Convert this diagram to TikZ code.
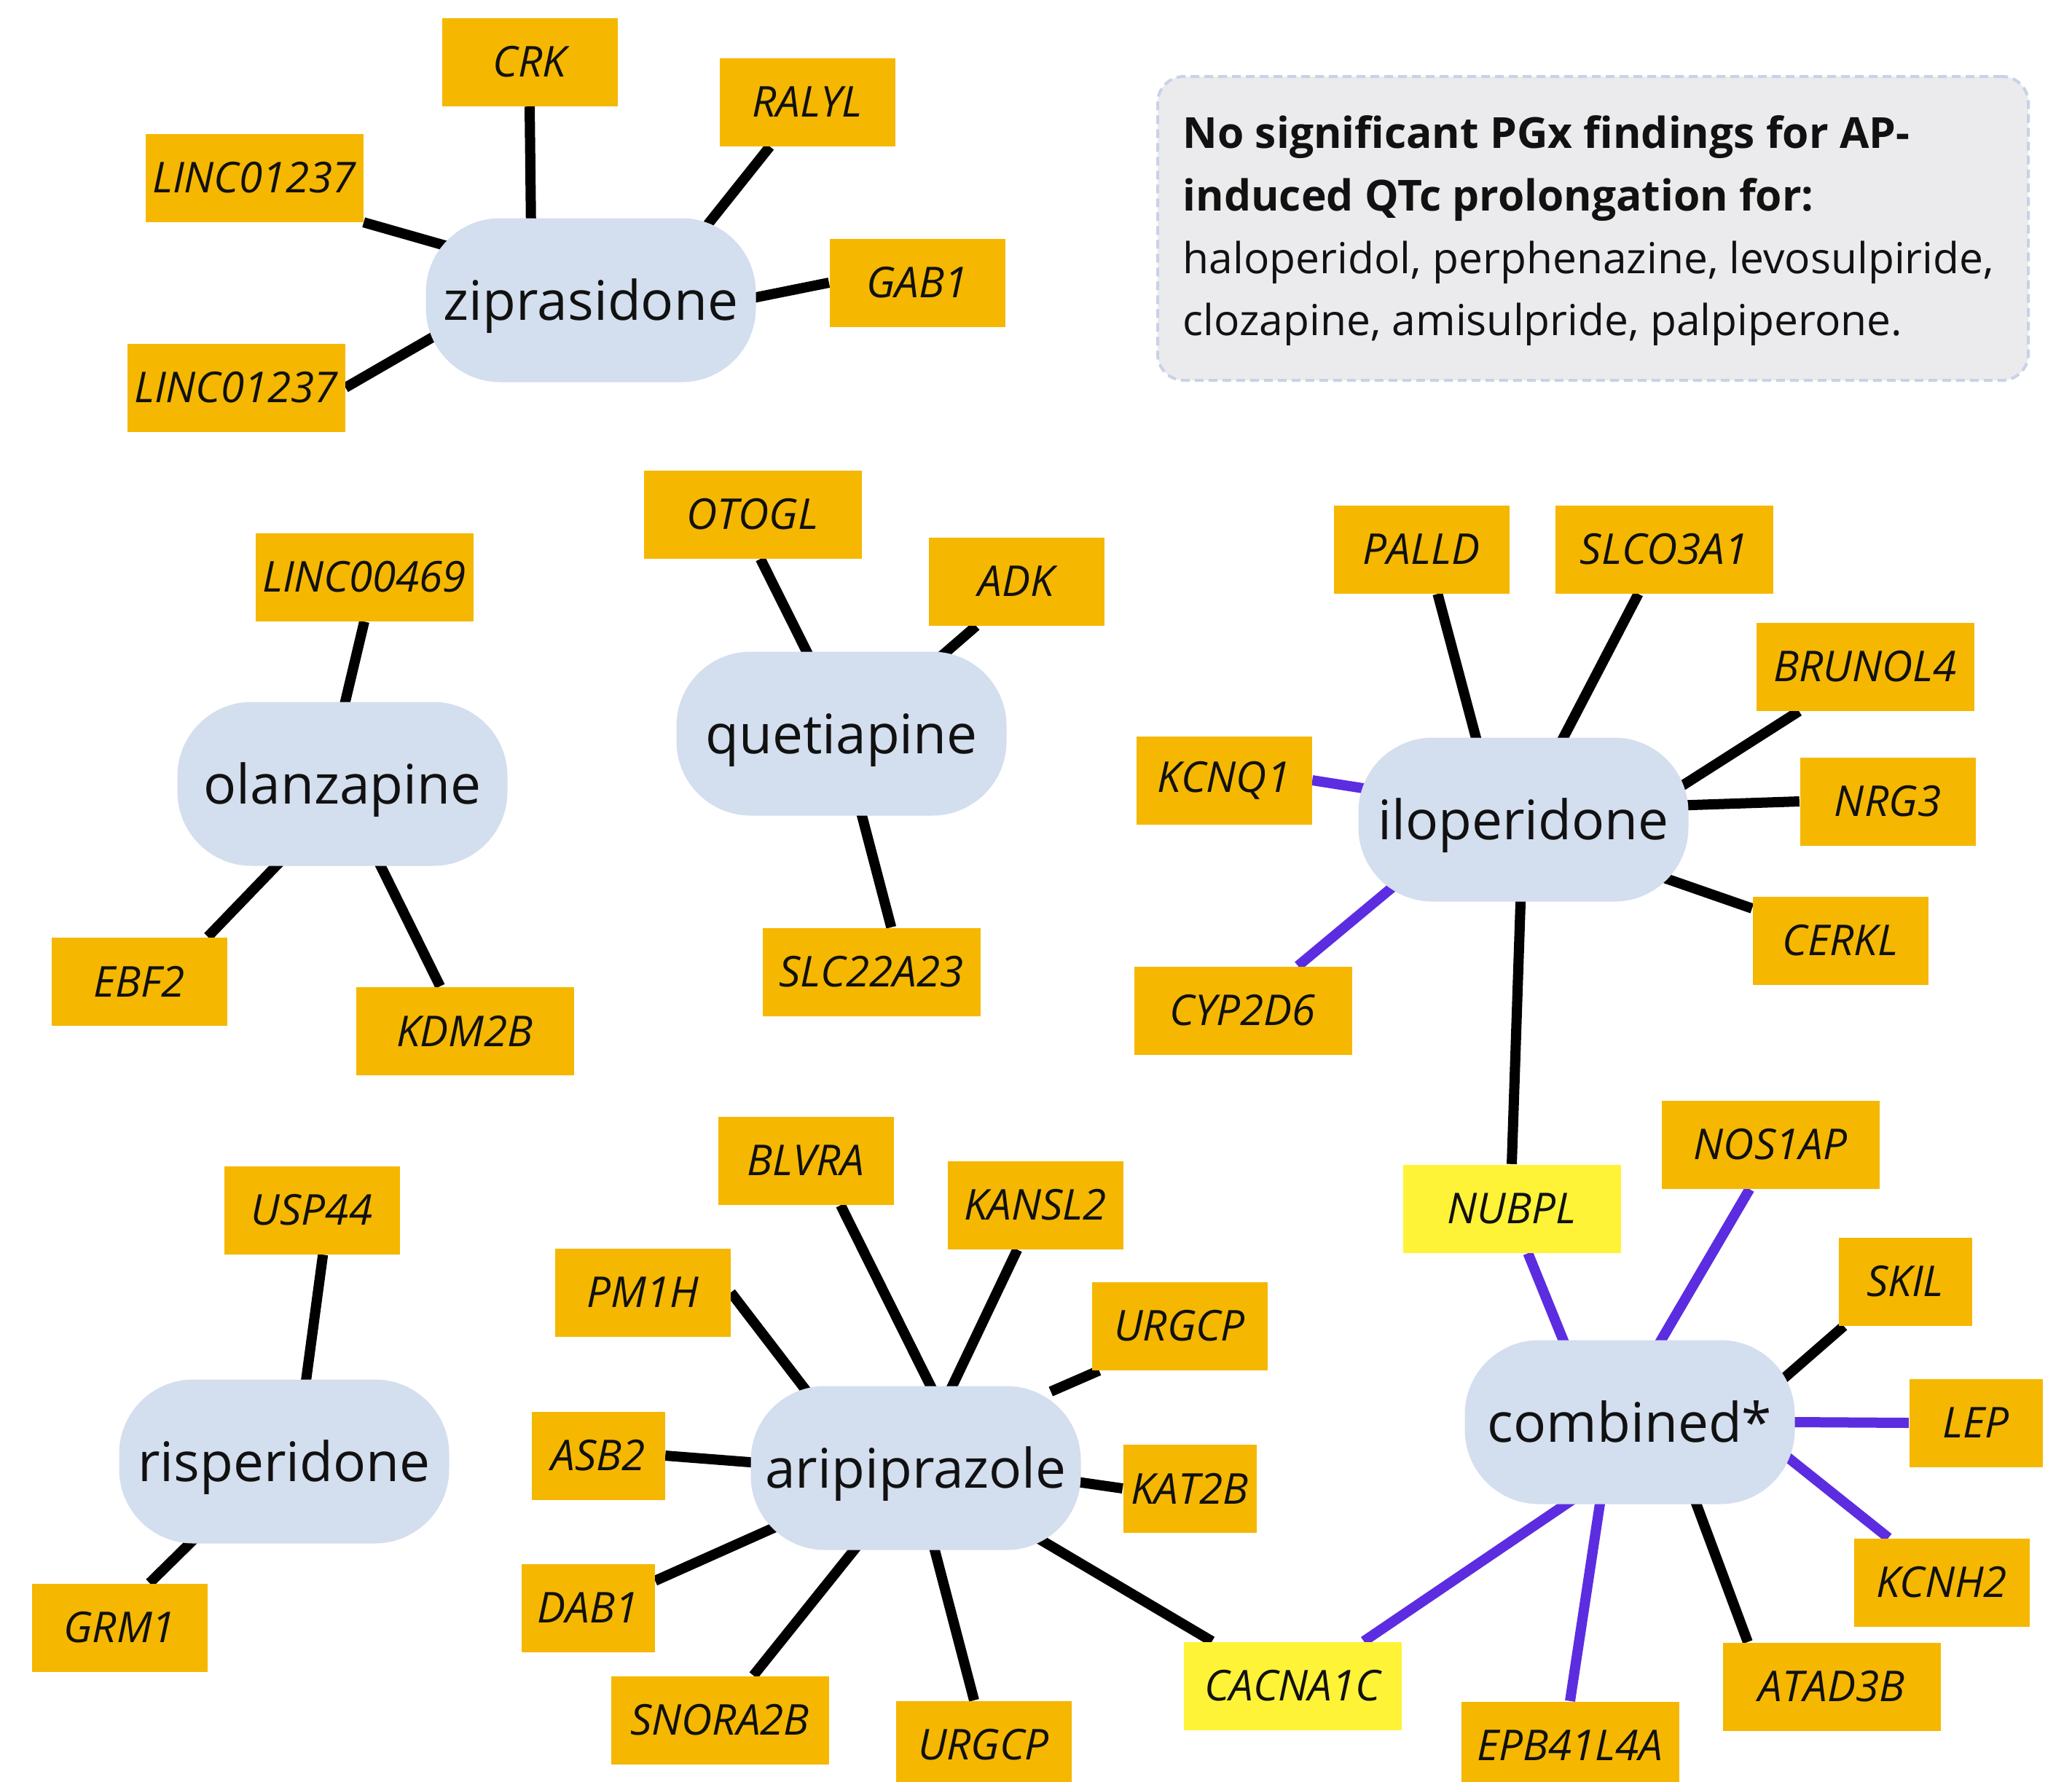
\documentclass[tikz,border=0pt]{standalone}
\usepackage{fontspec}
\setmainfont{Open Sans}
\usetikzlibrary{calc}
\definecolor{gene}{RGB}{245,183,0}
\definecolor{hit}{RGB}{255,243,56}
\definecolor{drugfill}{RGB}{211,222,238}
\definecolor{purp}{RGB}{92,45,224}
\definecolor{notefill}{RGB}{235,235,237}
\definecolor{noteline}{RGB}{200,210,232}
\definecolor{ink}{RGB}{17,17,17}
\pgfdeclarelayer{edges}
\pgfsetlayers{edges,main}
\tikzset{
 drug/.style={rectangle, rounded corners=1.02cm, fill=drugfill, minimum width=4.53cm, minimum height=2.25cm, inner sep=0pt, text height=0.64cm, text depth=0.1cm, text=ink, font=\fontsize{21.3}{24}\selectfont},
 genebox/.style={rectangle, fill=gene, minimum height=1.21cm, inner sep=0pt, text=ink, font=\fontsize{16.6}{19}\selectfont\itshape},
 gs/.style={genebox, minimum width=1.83cm},
 gm/.style={genebox, minimum width=2.41cm},
 gl/.style={genebox, minimum width=2.99cm},
 hitbox/.style={fill=hit},
 blk/.style={line width=0.14cm, black},
 vio/.style={line width=0.14cm, purp},
}
% #1 style, #2 drug node, #3 angle on drug, #4 gene anchor
\newcommand\drugedge[4]{\draw[#1] (#4) -- ($(#4)!1.4!(#2.#3)$);}
\begin{document}
\begin{tikzpicture}
\useasboundingbox (0,0) rectangle (28.44,-24.45);
% note
\node[draw=noteline, dashed, dash pattern=on 0.12cm off 0.07cm, line width=0.04cm, fill=notefill, rounded corners=0.36cm, minimum width=11.95cm, minimum height=4.17cm] (note) at (21.865,-3.135) {};
\node[anchor=north west, align=left, text=ink, font=\fontsize{16.7}{24.4}\selectfont, inner sep=0pt] (notetext) at (16.23,-1.58) {\textbf{No significant PGx findings for AP-}\\\textbf{induced QTc prolongation for:}\\haloperidol, perphenazine, levosulpiride,\\clozapine, amisulpride, palpiperone.};
% drugs
\node[drug] (zip) at (8.11,-4.12) {ziprasidone};
\node[drug] (olz) at (4.70,-10.76) {olanzapine};
\node[drug] (que) at (11.55,-10.07) {quetiapine};
\node[drug] (ilo) at (20.91,-11.25) {iloperidone};
\node[drug] (ris) at (3.90,-20.06) {risperidone};
\node[drug] (ari) at (12.57,-20.15) {aripiprazole};
\node[drug] (comb) at (22.37,-19.52) {combined*};
% genes
\node[gm] (crk) at (7.27,-0.85) {CRK};
\node[gm] (ralyl) at (11.08,-1.40) {RALYL};
\node[gl] (lincA) at (3.49,-2.44) {LINC01237};
\node[gm] (gab1) at (12.59,-3.88) {GAB1};
\node[gl] (lincB) at (3.24,-5.32) {LINC01237};
\node[gl] (linc469) at (5.00,-7.92) {LINC00469};
\node[gm] (ebf2) at (1.91,-13.47) {EBF2};
\node[gl] (kdm2b) at (6.38,-14.15) {KDM2B};
\node[gl] (otogl) at (10.33,-7.06) {OTOGL};
\node[gm] (adk) at (13.95,-7.98) {ADK};
\node[gl] (slc22) at (11.96,-13.34) {SLC22A23};
\node[gm] (palld) at (19.51,-7.54) {PALLD};
\node[gl] (slco) at (22.84,-7.54) {SLCO3A1};
\node[gl] (brunol) at (25.60,-9.15) {BRUNOL4};
\node[gm] (nrg3) at (25.91,-11.00) {NRG3};
\node[gm] (cerkl) at (25.26,-12.91) {CERKL};
\node[gm] (kcnq1) at (16.80,-10.71) {KCNQ1};
\node[gl] (cyp) at (17.06,-13.87) {CYP2D6};
\node[gm] (usp44) at (4.28,-16.61) {USP44};
\node[gm] (grm1) at (1.64,-22.34) {GRM1};
\node[gm] (blvra) at (11.06,-15.93) {BLVRA};
\node[gm] (kansl2) at (14.21,-16.54) {KANSL2};
\node[gm] (pm1h) at (8.82,-17.74) {PM1H};
\node[gm] (urgcpA) at (16.19,-18.20) {URGCP};
\node[gs] (asb2) at (8.21,-19.98) {ASB2};
\node[gs] (kat2b) at (16.33,-20.43) {KAT2B};
\node[gs] (dab1) at (8.07,-22.07) {DAB1};
\node[gl] (snora) at (9.88,-23.61) {SNORA2B};
\node[gm] (urgcpB) at (13.50,-23.95) {URGCP};
\node[gl,hitbox] (cacna) at (17.74,-23.14) {CACNA1C};
\node[gl,hitbox] (nubpl) at (20.75,-16.59) {NUBPL};
\node[gl] (nos1ap) at (24.30,-15.71) {NOS1AP};
\node[gs] (skil) at (26.15,-17.59) {SKIL};
\node[gs] (lep) at (27.12,-19.53) {LEP};
\node[gm] (kcnh2) at (26.65,-21.72) {KCNH2};
\node[gl] (atad) at (25.14,-23.15) {ATAD3B};
\node[gl] (epb) at (21.55,-23.96) {EPB41L4A};
\begin{pgfonlayer}{edges}
\fill[white] (0,0) rectangle (28.44,-24.45);
\drugedge{blk}{zip}{126}{crk.south}
\drugedge{blk}{zip}{160}{lincA.south east}
\drugedge{blk}{zip}{34}{ralyl.230}
\drugedge{blk}{zip}{1}{gab1.west}
\drugedge{blk}{zip}{194}{lincB.east}
\drugedge{blk}{olz}{88}{linc469.south}
\drugedge{blk}{olz}{231}{ebf2.33}
\drugedge{blk}{olz}{295}{kdm2b.119}
\drugedge{blk}{que}{113}{otogl.280}
\drugedge{blk}{que}{38}{adk.228}
\drugedge{blk}{que}{284}{slc22.66}
\drugedge{blk}{ilo}{120}{palld.290}
\drugedge{blk}{ilo}{64}{slco.240}
\drugedge{blk}{ilo}{13}{brunol.214}
\drugedge{blk}{ilo}{5}{nrg3.west}
\drugedge{blk}{ilo}{338}{cerkl.160}
\drugedge{vio}{ilo}{169}{kcnq1.east}
\drugedge{vio}{ilo}{209}{cyp.39}
\drugedge{blk}{ilo}{268}{nubpl.north}
\drugedge{blk}{ris}{75}{usp44.284}
\drugedge{blk}{ris}{221}{grm1.56}
\drugedge{blk}{ari}{80}{blvra.308}
\drugedge{blk}{ari}{66}{kansl2.248}
\drugedge{blk}{ari}{144}{pm1h.east}
\drugedge{blk}{ari}{29}{urgcpA.209}
\drugedge{blk}{ari}{178}{asb2.east}
\drugedge{blk}{ari}{355}{kat2b.west}
\drugedge{blk}{ari}{203}{dab1.22}
\drugedge{blk}{ari}{233}{snora.53}
\drugedge{blk}{ari}{283}{urgcpB.102}
\drugedge{blk}{ari}{330}{cacna.151}
\drugedge{vio}{comb}{129}{nubpl.290}
\drugedge{vio}{comb}{69}{nos1ap.245}
\drugedge{blk}{comb}{18}{skil.216}
\drugedge{vio}{comb}{0}{lep.west}
\drugedge{vio}{comb}{346}{kcnh2.140}
\drugedge{blk}{comb}{309}{atad.152}
\drugedge{vio}{comb}{250}{epb.north}
\drugedge{vio}{comb}{232}{cacna.32}
\end{pgfonlayer}
\end{tikzpicture}
\end{document}
